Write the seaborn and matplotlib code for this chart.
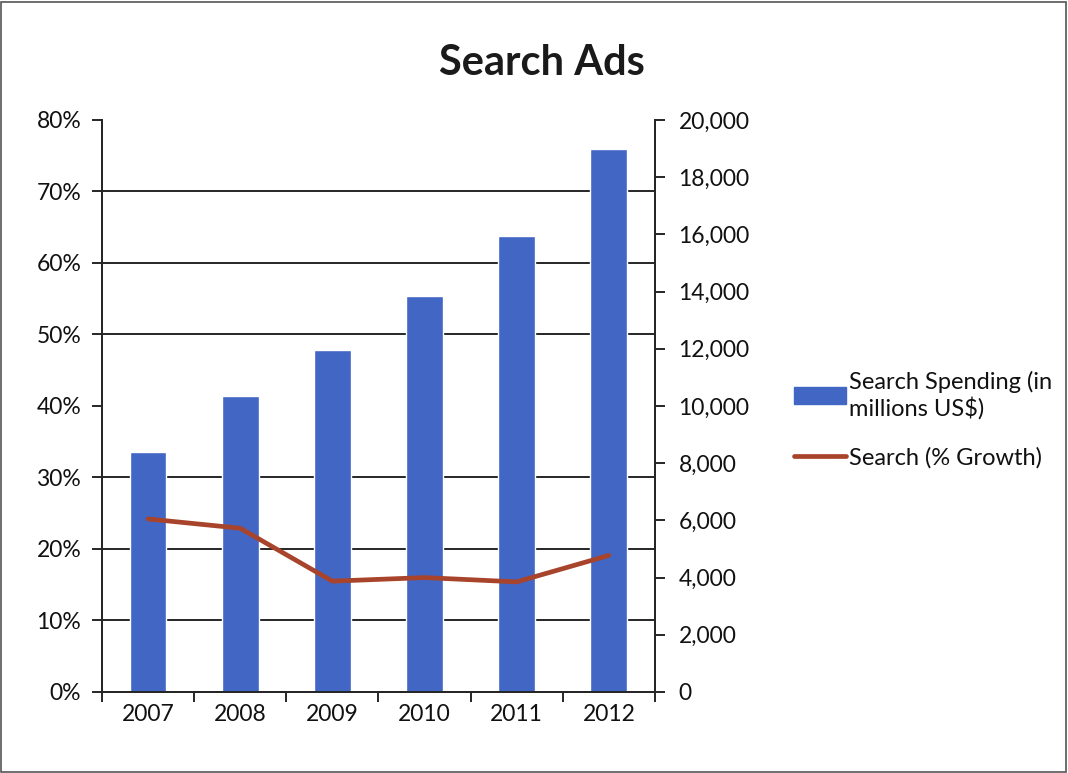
import matplotlib
matplotlib.use("Agg")
import matplotlib.pyplot as plt
from matplotlib.ticker import FixedLocator, MultipleLocator, FuncFormatter
from matplotlib.patches import Rectangle, Patch
from matplotlib.lines import Line2D
import seaborn as sns
import pandas as pd

# Annual search advertising figures
years = ["2007", "2008", "2009", "2010", "2011", "2012"]
spending = [8400, 10350, 11950, 13850, 15950, 19000]   # millions US$
growth = [24.2, 22.9, 15.5, 16.0, 15.4, 19.1]          # % growth

title = "Search Ads"
bar_label = "Search Spending (in\nmillions US$)"
line_label = "Search (% Growth)"

BAR_COLOR = "#4266c4"
LINE_COLOR = "#a8432c"
INK = "#262626"
TXT = "#111111"
TICK_SIZE = 16.5

sns.set_theme(style="white")
plt.rcParams["font.family"] = ["Lato", "DejaVu Sans"]

df = pd.DataFrame({"year": years, "spending": spending, "growth": growth})

fig = plt.figure(figsize=(10.68, 7.73), dpi=100)
ax = fig.add_axes([0.0955, 0.1048, 0.5177, 0.74])

# Spending bars on the base axes, scale shown on the right
sns.barplot(data=df, x="year", y="spending", color=BAR_COLOR, width=0.4,
            saturation=1, ax=ax, zorder=2)
ax.set_ylim(0, 20000)
ax.set_xlim(-0.5, len(years) - 0.5)
ax.yaxis.set_major_locator(MultipleLocator(2000))
ax.yaxis.set_major_formatter(FuncFormatter(lambda v, p: f"{int(v):,}"))
# gridlines follow the 10% steps of the left scale
ax.yaxis.set_minor_locator(MultipleLocator(2500))
ax.grid(which="minor", axis="y", color=INK, linewidth=1.4, zorder=0)
ax.grid(which="major", axis="y", visible=False)
ax.set_axisbelow(True)
ax.set_xlabel("")
ax.set_ylabel("")

# Growth line on a twin axes, scale shown on the left
ax2 = ax.twinx()
sns.lineplot(data=df, x="year", y="growth", color=LINE_COLOR, linewidth=3.4,
             ax=ax2, legend=False)
ax2.set_ylim(0, 80)
ax2.yaxis.set_major_locator(MultipleLocator(10))
ax2.yaxis.set_major_formatter(FuncFormatter(lambda v, p: f"{int(v)}%"))
ax2.set_xlabel("")
ax2.set_ylabel("")

# swap sides: spending scale right, growth scale left
ax.yaxis.set_ticks_position("right")
ax.yaxis.set_label_position("right")
ax2.yaxis.set_ticks_position("left")
ax2.yaxis.set_label_position("left")

for a in (ax, ax2):
    a.spines["top"].set_visible(False)
    for s in ("left", "right", "bottom"):
        a.spines[s].set_visible(True)
        a.spines[s].set_color(INK)
        a.spines[s].set_linewidth(1.4)

# category labels centred, tick marks on category boundaries
ax.set_xticks(range(len(years)))
ax.set_xticklabels(years)
ax.xaxis.set_minor_locator(FixedLocator([i - 0.5 for i in range(len(years) + 1)]))
ax.tick_params(axis="x", which="major", length=0, pad=9, labelsize=TICK_SIZE, labelcolor=TXT)
ax.tick_params(axis="x", which="minor", length=7, width=1.4, color=INK, direction="out", bottom=True)
ax.tick_params(axis="y", which="major", right=True, left=False, labelright=True, labelleft=False,
               length=7, width=1.4, color=INK, direction="out", labelsize=TICK_SIZE,
               labelcolor=TXT, pad=10)
ax.tick_params(axis="y", which="minor", length=0, left=False, right=False)
ax2.tick_params(axis="y", which="major", left=True, right=False, labelleft=True, labelright=False,
                length=7, width=1.4, color=INK, direction="out", labelsize=TICK_SIZE,
                labelcolor=TXT, pad=8)

fig.text(0.5075, 0.918, title, ha="center", va="center", fontsize=30,
         fontweight="bold", color="#1a1a1a")

handles = [Patch(facecolor=BAR_COLOR, edgecolor=BAR_COLOR),
           Line2D([0], [0], color=LINE_COLOR, linewidth=3.4)]
fig.legend(handles, [bar_label, line_label], loc="upper left",
           bbox_to_anchor=(0.7236, 0.548), frameon=False, fontsize=17,
           handlelength=2.2, handletextpad=0.12, labelspacing=1.15,
           labelcolor=TXT)

fig.patches.append(Rectangle((0.001, 0.001), 0.997, 0.997, transform=fig.transFigure,
                             fill=False, edgecolor="#555555", linewidth=1.2))

fig.savefig("out.png", dpi=100)
